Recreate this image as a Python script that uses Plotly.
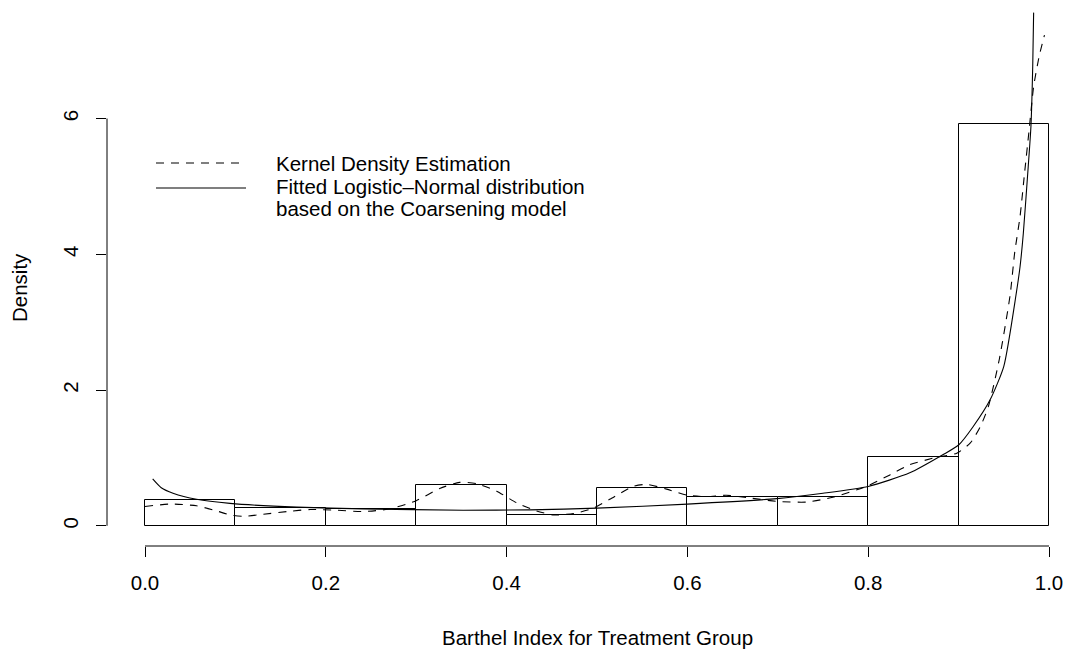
import plotly.graph_objects as go

# ---------------- data ----------------
bin_edges = [0.0, 0.1, 0.2, 0.3, 0.4, 0.5, 0.6, 0.7, 0.8, 0.9, 1.0]
bar_density = [0.38, 0.26, 0.25, 0.60, 0.16, 0.55, 0.42, 0.42, 1.02, 5.92]

kde_x = [0.000, 0.028, 0.057, 0.079, 0.094, 0.109, 0.131, 0.157, 0.183, 0.212,
         0.241, 0.271, 0.300, 0.326, 0.348, 0.367, 0.389, 0.411, 0.433, 0.452,
         0.474, 0.496, 0.514, 0.540, 0.555, 0.577, 0.600, 0.621, 0.643, 0.669,
         0.699, 0.732, 0.761, 0.798, 0.824, 0.846, 0.876, 0.898, 0.913, 0.924,
         0.933, 0.945, 0.957, 0.962, 0.968, 0.973, 0.978, 0.983, 0.989, 0.995]
kde_y = [0.285, 0.32, 0.295, 0.22, 0.16, 0.14, 0.17, 0.21, 0.24, 0.23,
         0.21, 0.25, 0.37, 0.55, 0.64, 0.62, 0.51, 0.34, 0.22, 0.16,
         0.18, 0.26, 0.39, 0.58, 0.61, 0.54, 0.45, 0.43, 0.45, 0.41,
         0.36, 0.35, 0.42, 0.58, 0.75, 0.90, 1.01, 1.07, 1.22, 1.46,
         1.76, 2.45, 3.40, 4.02, 4.56, 5.20, 5.83, 6.47, 6.91, 7.23]

fit_x = [0.0085, 0.018, 0.031, 0.057, 0.094, 0.168, 0.241, 0.352, 0.426, 0.500,
         0.600, 0.699, 0.750, 0.800, 0.846, 0.883, 0.900, 0.916, 0.935, 0.950,
         0.9635, 0.968, 0.9716, 0.977, 0.980, 0.982, 0.983]
fit_y = [0.69, 0.56, 0.48, 0.39, 0.33, 0.275, 0.25, 0.23, 0.235, 0.26,
         0.32, 0.40, 0.48, 0.58, 0.78, 1.05, 1.19, 1.46, 1.86, 2.35,
         3.40, 3.82, 4.31, 5.29, 5.88, 6.77, 7.56]

x_ticks = [0.0, 0.2, 0.4, 0.6, 0.8, 1.0]
x_tick_labels = ["0.0", "0.2", "0.4", "0.6", "0.8", "1.0"]
y_ticks = [0, 2, 4, 6]
y_tick_labels = ["0", "2", "4", "6"]

legend_labels = ["Kernel Density Estimation",
                 "Fitted Logistic\u2013Normal distribution",
                 "based on the Coarsening model"]
x_title = "Barthel Index for Treatment Group"
y_title = "Density"

# ---------------- layout geometry ----------------
W, H = 1067, 649
L, R, T, B = 107, 0, 0, 103
PW, PH = W - L - R, H - T - B
FONT = "Liberation Sans, Arial, Helvetica, sans-serif"
FS = 20.5


def px(x):
    return (x - L) / PW


def py(y):
    return (PH + T - y) / PH


centers = [(a + b) / 2 for a, b in zip(bin_edges[:-1], bin_edges[1:])]
widths = [b - a for a, b in zip(bin_edges[:-1], bin_edges[1:])]

fig = go.Figure()
fig.add_trace(go.Bar(
    x=centers, y=bar_density, width=widths,
    marker=dict(color="white", line=dict(color="black", width=1)),
    showlegend=False, hoverinfo="skip"))
fig.add_trace(go.Scatter(
    x=kde_x, y=kde_y, mode="lines",
    line=dict(color="black", width=1.1, dash="8px,7px", shape="spline", smoothing=0.6),
    showlegend=False, cliponaxis=False))
fig.add_trace(go.Scatter(
    x=fit_x, y=fit_y, mode="lines",
    line=dict(color="black", width=1.1, shape="spline", smoothing=0.6),
    showlegend=False, cliponaxis=False))

shapes = [
    # x axis line (R style: only from first to last tick)
    dict(type="line", xref="x", yref="paper", x0=x_ticks[0], x1=x_ticks[-1], y0=0, y1=0,
         line=dict(color="black", width=1)),
    # y axis line
    dict(type="line", xref="paper", yref="y", x0=0, x1=0, y0=y_ticks[0], y1=y_ticks[-1],
         line=dict(color="black", width=1)),
    # legend samples
    dict(type="line", xref="paper", yref="paper", x0=px(156), x1=px(246), y0=py(163), y1=py(163),
         line=dict(color="black", width=1.1, dash="8px,7px")),
    dict(type="line", xref="paper", yref="paper", x0=px(156), x1=px(246), y0=py(188), y1=py(188),
         line=dict(color="black", width=1.1)),
]

annotations = []
for lab, yy in zip(legend_labels, [163, 186, 209]):
    annotations.append(dict(text=lab, xref="paper", yref="paper", x=px(274), y=py(yy),
                            xanchor="left", yanchor="middle", showarrow=False,
                            font=dict(family=FONT, size=FS, color="black")))
annotations.append(dict(text=x_title, xref="paper", yref="paper", x=px(597), y=py(637),
                        xanchor="center", yanchor="middle", showarrow=False,
                        font=dict(family=FONT, size=FS, color="black")))
annotations.append(dict(text=y_title, xref="paper", yref="paper", x=px(19), y=py(288),
                        xanchor="center", yanchor="middle", showarrow=False, textangle=-90,
                        font=dict(family=FONT, size=FS, color="black")))

fig.update_layout(
    width=W, height=H,
    margin=dict(l=L, r=R, t=T, b=B, pad=0),
    paper_bgcolor="white", plot_bgcolor="white",
    showlegend=False, bargap=0,
    shapes=shapes, annotations=annotations,
    font=dict(family=FONT, size=FS, color="black"),
)
fig.update_xaxes(
    range=[(L - 145) / 904, (W - R - 145) / 904],
    tickmode="array", tickvals=x_ticks, ticktext=x_tick_labels,
    ticks="outside", ticklen=10, tickwidth=1, tickcolor="black",
    ticklabelstandoff=8,
    showline=False, showgrid=False, zeroline=False,
    tickfont=dict(family=FONT, size=FS, color="black"))
fig.update_yaxes(
    range=[-(H - B - 525.8) / 67.88, 525.8 / 67.88],
    tickmode="array", tickvals=y_ticks, ticktext=y_tick_labels,
    ticks="outside", ticklen=10, tickwidth=1, tickcolor="black",
    tickangle=-90, ticklabelstandoff=10,
    showline=False, showgrid=False, zeroline=False,
    tickfont=dict(family=FONT, size=FS, color="black"))

fig.write_html(
    "out.html",
    config={"displayModeBar": False},
    post_script="document.body.style.margin='0';document.body.style.overflow='hidden';")
